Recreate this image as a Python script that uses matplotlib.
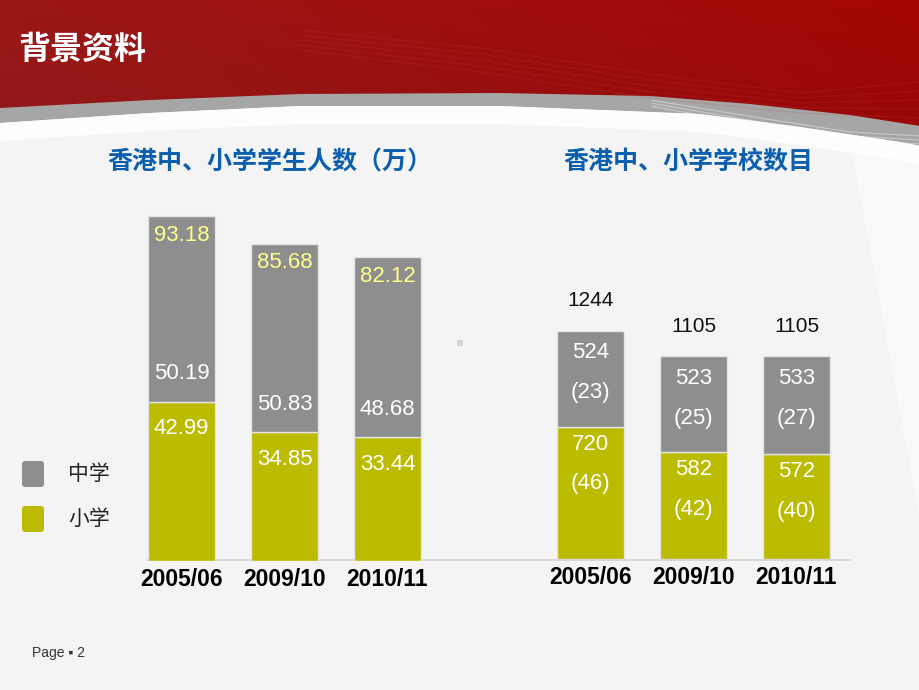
import numpy as np
import matplotlib
matplotlib.use('Agg')
import matplotlib.pyplot as plt
from matplotlib.patches import FancyBboxPatch, Polygon, Rectangle

plt.rcParams['font.family'] = ['Liberation Sans', 'Noto Sans CJK SC', 'DejaVu Sans']

# data
years = ['2005/06', '2009/10', '2010/11']
primary_students = [42.99, 34.85, 33.44]      # 小学 (万)
secondary_students = [50.19, 50.83, 48.68]    # 中学 (万)
total_students = [93.18, 85.68, 82.12]
primary_schools = [720, 582, 572]
secondary_schools = [524, 523, 533]
primary_share = [46, 42, 40]
secondary_share = [23, 25, 27]
total_schools = [1244, 1105, 1105]

GREY = '#8E8E8E'
GREEN = '#BBBC00'
BLUE = '#0B5FAE'

W, H = 920, 690
fig = plt.figure(figsize=(W / 100, H / 100), dpi=100)
fig.patch.set_facecolor('#F4F4F4')

# background / decoration axes in pixel coordinates
bg = fig.add_axes([0, 0, 1, 1], zorder=0)
bg.set_xlim(0, W)
bg.set_ylim(H, 0)
bg.axis('off')

# lighter diagonal at the right edge
bg.add_patch(Polygon([[850, 140], [920, 140], [920, 520]], closed=True,
                     facecolor='#FBFBFB', edgecolor='none', alpha=0.8))

xs = np.linspace(0, W, 200)
red_bottom = np.interp(xs, [0, 150, 300, 500, 650, 750, 850, 920], [108, 100, 94, 93, 96, 104, 115, 126])
white_top = np.interp(xs, [0, 150, 300, 500, 600, 700, 800, 900, 920], [123, 113, 106, 106, 110, 114, 127, 142, 146])

# grey band
band = np.vstack([np.column_stack([xs, red_bottom - 2]), np.column_stack([xs[::-1], white_top[::-1]])])
bg.add_patch(Polygon(band, closed=True, facecolor='#A6A6A6', edgecolor='none'))
# white glow under the band
glow = np.vstack([np.column_stack([xs, white_top]), np.column_stack([xs[::-1], white_top[::-1] + 18])])
bg.add_patch(Polygon(glow, closed=True, facecolor='#FFFFFF', edgecolor='none', alpha=0.9))

# red banner with gradient
gx = np.linspace(0, 1, 256)
gy = np.linspace(0, 1, 64)[:, None]
r = 0.61 + 0.03 * gx[None, :] - 0.04 * gy
g = 0.09 - 0.07 * gx[None, :] + 0.01 * gy
b = 0.09 - 0.07 * gx[None, :] + 0.01 * gy
grad = np.dstack([r, g, b])
img = bg.imshow(grad, extent=[0, W, 130, 0], aspect='auto', zorder=1)
red_poly = Polygon(np.vstack([[[0, 0], [W, 0]], np.column_stack([xs[::-1], red_bottom[::-1]])]),
                   closed=True, transform=bg.transData)
img.set_clip_path(red_poly)

# faint swoosh lines in the banner
for k in range(5):
    sy = np.interp(xs, [300, 480, 650, 800, 920], [30 + 5 * k, 48 + 6 * k, 74 + 6 * k, 93 + 5 * k, 82 + 9 * k])
    m = xs >= 300
    bg.plot(xs[m], sy[m], color='#C04040', lw=0.8, alpha=0.2, zorder=2)
for k in range(3):
    sy = np.interp(xs, [650, 760, 850, 920], [100 + 3 * k, 118 + 4 * k, 132 + 4 * k, 136 + 4 * k])
    m = xs >= 650
    bg.plot(xs[m], sy[m], color='white', lw=0.8, alpha=0.4, zorder=2)

bg.text(18, 50, '背景资料', color='white', fontsize=23, fontweight='bold',
        family=['Noto Sans CJK SC'], va='center', ha='left', zorder=3)

# chart titles
bg.text(270, 163, '香港中、小学学生人数（万）', color=BLUE, fontsize=18, fontweight='bold',
        family=['Noto Sans CJK SC'], ha='center', va='center')
bg.text(688, 163, '香港中、小学学校数目', color=BLUE, fontsize=18, fontweight='bold',
        family=['Noto Sans CJK SC'], ha='center', va='center')

# legend
for yc, col, lab in [(474, GREY, '中学'), (519, GREEN, '小学')]:
    bg.add_patch(FancyBboxPatch((22, yc - 13), 22, 26, boxstyle='round,pad=0,rounding_size=3',
                                facecolor=col, edgecolor='none'))
    bg.text(68, yc, lab, fontsize=15, color='#222222', family=['Noto Sans CJK SC'],
            ha='left', va='center')

# baseline and small marker
bg.plot([147, 850], [560, 560], color='#D2D2D2', lw=1.2)
bg.add_patch(Rectangle((457, 340), 6, 6, facecolor='#D6D6D6', edgecolor='none'))

bg.text(32, 653, 'Page ▪ 2', fontsize=10, color='#333333', ha='left', va='center',
        family=['Liberation Sans', 'DejaVu Sans'])

x = np.arange(len(years))
bw = 0.66


def px(v):
    return v * 0.72  # pixels -> points at 100 dpi


# left chart: students
ax1 = fig.add_axes([130 / W, (H - 561) / H, 309 / W, 370 / H], zorder=2)
ax1.set_facecolor('none')
ax1.bar(x, primary_students, bw, color=GREEN, edgecolor='#E4E4E4', linewidth=1)
ax1.bar(x, secondary_students, bw, bottom=primary_students, color=GREY, edgecolor='#E4E4E4', linewidth=1)
ax1.set_xlim(-0.5, 2.5)
ax1.set_ylim(0, 100)
for i in range(len(years)):
    p, s, t = primary_students[i], secondary_students[i], total_students[i]
    ax1.annotate(f'{t:.2f}', (x[i], p + s), xytext=(0, -px(19)), textcoords='offset points',
                 ha='center', va='center', color='#FFFF8C', fontsize=16)
    ax1.annotate(f'{s:.2f}', (x[i], p), xytext=(0, px(28)), textcoords='offset points',
                 ha='center', va='center', color='white', fontsize=16)
    ax1.annotate(f'{p:.2f}', (x[i], p), xytext=(0, -px(27)), textcoords='offset points',
                 ha='center', va='center', color='white', fontsize=16)

# right chart: schools
ax2 = fig.add_axes([539 / W, (H - 559) / H, 309 / W, 275 / H], zorder=2)
ax2.set_facecolor('none')
ax2.bar(x, primary_schools, bw, color=GREEN, edgecolor='#E4E4E4', linewidth=1)
ax2.bar(x, secondary_schools, bw, bottom=primary_schools, color=GREY, edgecolor='#E4E4E4', linewidth=1)
ax2.set_xlim(-0.5, 2.5)
ax2.set_ylim(0, 1500)
for i in range(len(years)):
    p, s = primary_schools[i], secondary_schools[i]
    top = p + s
    ax2.annotate(str(total_schools[i]), (x[i], top), xytext=(0, px(30)), textcoords='offset points',
                 ha='center', va='center', color='#111111', fontsize=15)
    ax2.annotate(str(s), (x[i], top), xytext=(0, -px(22)), textcoords='offset points',
                 ha='center', va='center', color='white', fontsize=16)
    ax2.annotate(f'({secondary_share[i]})', (x[i], top), xytext=(0, -px(62)), textcoords='offset points',
                 ha='center', va='center', color='white', fontsize=16)
    ax2.annotate(str(p), (x[i], p), xytext=(0, -px(17)), textcoords='offset points',
                 ha='center', va='center', color='white', fontsize=16)
    ax2.annotate(f'({primary_share[i]})', (x[i], p), xytext=(0, -px(57)), textcoords='offset points',
                 ha='center', va='center', color='white', fontsize=16)

for ax in (ax1, ax2):
    for sp in ax.spines.values():
        sp.set_visible(False)
    ax.set_yticks([])
    ax.set_xticks(x)
    ax.set_xticklabels(years, fontsize=16.5, fontweight='bold', color='black')
    ax.tick_params(axis='x', length=0, pad=5)

fig.savefig('out.png', dpi=100, facecolor=fig.get_facecolor())
